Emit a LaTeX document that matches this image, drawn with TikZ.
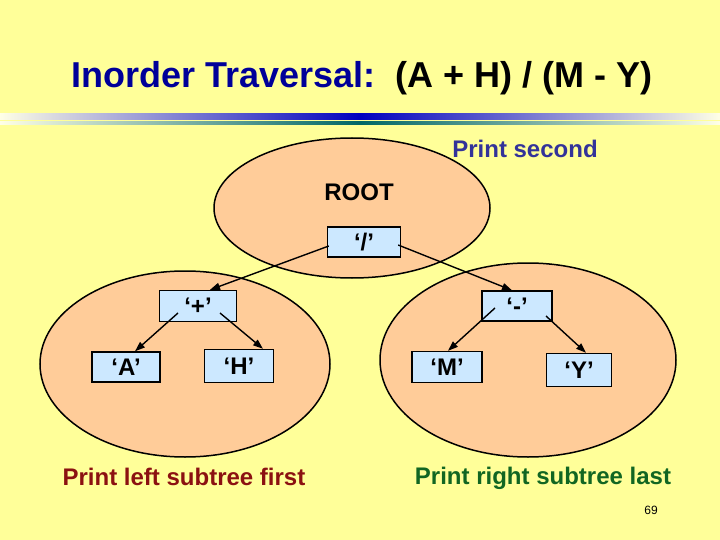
\documentclass[tikz,border=0pt]{standalone}
\usepackage{fontspec}
\setmainfont{Liberation Sans}
\usetikzlibrary{arrows.meta,calc}
\definecolor{bg}{HTML}{FFFF99}
\definecolor{peach}{HTML}{FFCC99}
\definecolor{boxblue}{HTML}{CCE8FF}
\definecolor{titleblue}{HTML}{000099}
\definecolor{secblue}{HTML}{333399}
\definecolor{leftred}{HTML}{8B1111}
\definecolor{rightgreen}{HTML}{116622}
\definecolor{paleend}{HTML}{FFFFE6}
\tikzset{
  treebox/.style={draw=black, line width=1.4pt, fill=boxblue, minimum height=30pt, inner sep=0pt, font=\fontsize{24}{26}\selectfont\bfseries},
  arr/.style={line width=1.4pt, -{Triangle[length=10pt,width=7pt]}},
  oval/.style={line width=1.5pt},
  bodytext/.style={font=\fontsize{24}{28}\selectfont\bfseries}
}
\begin{document}
\begin{tikzpicture}[x=1pt,y=-1pt]
\fill[bg] (0,0) rectangle (720,540);
\useasboundingbox (0,0) rectangle (720,540);
% title
\node[anchor=base west, inner sep=0pt, font=\fontsize{36}{40}\selectfont\bfseries] (title) at (71,88)
  {\textcolor{titleblue}{Inorder Traversal:}\ \ (A + H) / (M - Y)};
% gradient rules
\shade[left color=paleend, right color=paleend, middle color=blue!75!black] (0,114) rectangle (720,120);
\shade[left color=paleend, right color=paleend, middle color=teal!80!black] (0,121.5) rectangle (720,124.5);
% ellipse fills
\fill[peach] (185,364) ellipse [x radius=145, y radius=93];
\fill[peach] (528,360) ellipse [x radius=148, y radius=97];
\fill[peach] (352,208) ellipse [x radius=138, y radius=70];
% ellipse outlines
\draw[oval] (185,364) ellipse [x radius=145, y radius=93];
\draw[oval] (528,360) ellipse [x radius=148, y radius=97];
\draw[oval] (352,208) ellipse [x radius=138, y radius=70];
% labels
\node[bodytext, text=secblue] (second) at (525,149) {Print second};
\node[bodytext] (root) at (359,192) {ROOT};
\node[bodytext, text=leftred] (leftlbl) at (184,477) {Print left subtree first};
\node[bodytext, text=rightgreen] (rightlbl) at (543,478) {Print right subtree last};
\node[font=\fontsize{12}{14}\selectfont] (page) at (651,510) {69};
% boxes
\node[treebox, minimum width=73pt] (slash) at (364,242) {‘/’};
\node[treebox, minimum width=77pt, minimum height=31pt] (plus) at (198,306) {‘+’};
\node[treebox, minimum width=68pt] (A) at (126,367) {‘A’};
\node[treebox, minimum width=69pt, minimum height=33pt] (H) at (239,366) {‘H’};
\node[treebox, minimum width=70pt] (minus) at (517,306) {‘-’};
\node[treebox, minimum width=70pt, minimum height=31pt] (M) at (447,367) {‘M’};
\node[treebox, minimum width=65pt, minimum height=33pt] (Y) at (579,370) {‘Y’};
% connectors
\draw[arr] ([shift={(2,4)}]slash.west) -- ([xshift=12pt]plus.north);
\draw[arr] ([shift={(-3,3)}]slash.east) -- ([xshift=-5pt]minus.north);
\draw[arr] ([shift={(-20,7)}]plus.center) -- ([xshift=9pt]A.north);
\draw[arr] ([shift={(22,7)}]plus.center) -- ([xshift=24pt]H.north);
\draw[arr] ([shift={(-22,2)}]minus.center) -- ([xshift=1pt]M.north);
\draw[arr] ([shift={(29,10)}]minus.center) -- ([xshift=7pt]Y.north);
\end{tikzpicture}
\end{document}
